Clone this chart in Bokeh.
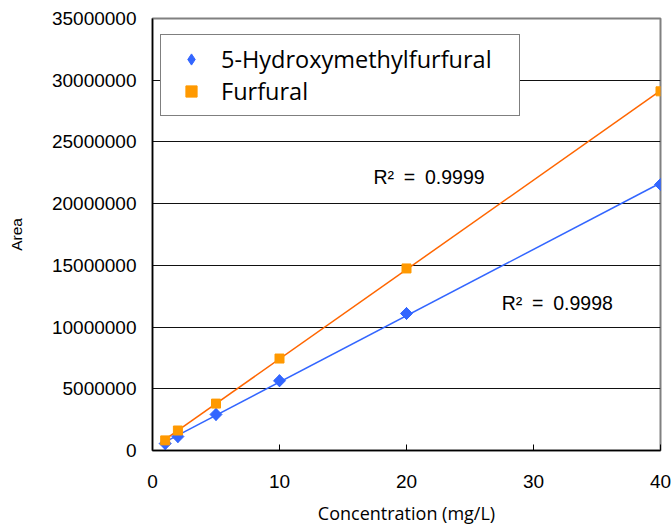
import numpy as np
from bokeh.plotting import figure
from bokeh.models import Range1d, FixedTicker, Legend, LegendItem, Label, BasicTickFormatter
from bokeh.embed import file_html
from bokeh.resources import INLINE

# ---- data ----
concentration = [1, 2, 5, 10, 20, 40]
hmf_area = [560000, 1130000, 2920000, 5650000, 11100000, 21550000]
furfural_area = [820000, 1620000, 3800000, 7450000, 14750000, 29100000]
series_names = ["5-Hydroxymethylfurfural", "Furfural"]
r2_labels = ["R\u00b2\u2002=\u20020.9999", "R\u00b2\u2002=\u20020.9998"]
x_ticks = [0, 10, 20, 30, 40]
y_ticks = [0, 5000000, 10000000, 15000000, 20000000, 25000000, 30000000, 35000000]

BLUE = "#3366FF"
BLUE_LINE = "#3366FF"
ORANGE = "#FF9900"
ORANGE_LINE = "#FF6600"

p = figure(width=672, height=528, output_backend="svg", toolbar_location=None,
           x_range=Range1d(0, 40), y_range=Range1d(0, 35000000),
           min_border_left=152, min_border_right=12, min_border_top=18, min_border_bottom=78)

p.background_fill_color = "white"
p.border_fill_color = "white"
p.outline_line_color = "#808080"
p.outline_line_width = 2

# trend lines (least squares fit of each series)
xs = np.array(concentration, dtype=float)
xfit = np.array([xs.min(), xs.max()])
for area, col in ((furfural_area, ORANGE_LINE), (hmf_area, BLUE_LINE)):
    k, b = np.polyfit(xs, np.array(area, dtype=float), 1)
    p.line(xfit, k * xfit + b, line_color=col, line_width=1.5)

# diamond markers (narrow diamond underneath serves as the legend key)
r_hmf_key = p.scatter(concentration, hmf_area, marker="diamond", size=12,
                      fill_color=BLUE, line_color=BLUE)
r_hmf = p.scatter(concentration, hmf_area, marker="square", angle=np.pi / 4, size=8.5,
                  fill_color=BLUE, line_color=BLUE)
r_fur = p.scatter(concentration, furfural_area, marker="square", size=9,
                  fill_color=ORANGE, line_color=ORANGE)

# axes
p.xaxis.ticker = FixedTicker(ticks=x_ticks)
p.yaxis.ticker = FixedTicker(ticks=y_ticks)
p.yaxis.formatter = BasicTickFormatter(use_scientific=False)
p.xaxis.axis_label = "Concentration (mg/L)"
p.yaxis.axis_label = "Area"
for ax in (p.xaxis, p.yaxis):
    ax.axis_line_color = "black"
    ax.axis_line_width = 1.5
    ax.major_tick_line_color = "black"
    ax.minor_tick_line_color = None
    ax.major_label_text_font = "Liberation Sans"
    ax.major_label_text_font_size = "19px"
    ax.major_label_text_color = "black"
    ax.axis_label_text_font_style = "normal"
    ax.axis_label_text_color = "black"
p.xaxis.major_tick_in = 6
p.xaxis.major_tick_out = 0
p.xaxis.major_label_standoff = 24
p.xaxis.axis_label_text_font = "Open Sans"
p.xaxis.axis_label_text_font_size = "18px"
p.xaxis.axis_label_standoff = 10
p.yaxis.major_tick_in = 0
p.yaxis.major_tick_out = 0
p.yaxis.major_label_standoff = 16
p.yaxis.axis_label_text_font = "Liberation Sans"
p.yaxis.axis_label_text_font_size = "15.5px"
p.yaxis.axis_label_standoff = 24

p.xgrid.grid_line_color = None
p.ygrid.grid_line_color = "#111111"
p.ygrid.grid_line_width = 1

# R^2 labels
p.add_layout(Label(x=17.4, y=21300000, text=r2_labels[0], text_font="Liberation Sans",
                   text_font_size="19.5px", text_color="black"))
p.add_layout(Label(x=27.5, y=11050000, text=r2_labels[1], text_font="Liberation Sans",
                   text_font_size="19.5px", text_color="black"))

legend = Legend(items=[LegendItem(label=series_names[0], renderers=[r_hmf_key]),
                       LegendItem(label=series_names[1], renderers=[r_fur])],
                location=(8, 334))
legend.label_text_font = "Open Sans"
legend.label_text_font_size = "23.5px"
legend.label_text_color = "black"
legend.label_height = 30
legend.glyph_height = 28
legend.glyph_width = 44
legend.label_standoff = 8
legend.label_width = 290
legend.spacing = 0
legend.padding = 8
legend.margin = 0
legend.border_line_color = "black"
legend.border_line_width = 1.5
legend.background_fill_color = "white"
legend.background_fill_alpha = 1
p.add_layout(legend, "center")

open("out.html", "w").write(file_html(p, INLINE))
